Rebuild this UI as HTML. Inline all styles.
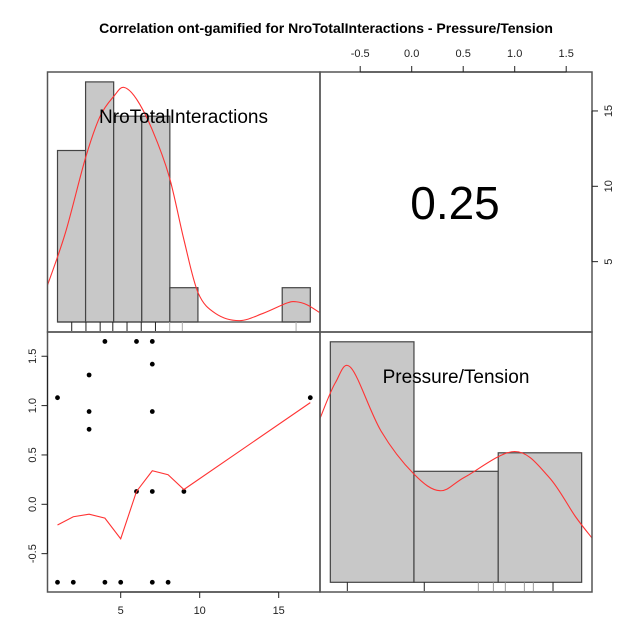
<!DOCTYPE html>
<html><head><meta charset="utf-8"><style>
html,body{margin:0;padding:0;background:#fff}
svg{display:block;font-family:"Liberation Sans",Arial,sans-serif}
</style></head><body>
<svg id="chart" width="640" height="640" viewBox="0 0 640 640" xmlns="http://www.w3.org/2000/svg">
<text x="326" y="33" font-size="14" font-weight="bold" text-anchor="middle">Correlation ont-gamified for NroTotalInteractions - Pressure/Tension</text>
</svg>
<script>
// ---- data ----
const scatterX = [4,6,7,7,3,1,17,3,7,3,6,7,9,1,2,4,5,7,8];
const scatterY = [1.65,1.65,1.65,1.42,1.31,1.08,1.08,0.94,0.94,0.76,0.13,0.13,0.13,-0.79,-0.79,-0.79,-0.79,-0.79,-0.79];
const smoothX = [1,2,3,4,5,6,7,8,9,17];
const smoothY = [-0.21,-0.126,-0.10,-0.14,-0.35,0.13,0.34,0.30,0.15,1.03];
const nroBreaks = [1,2.777,4.555,6.333,8.111,9.888,11.666,13.444,15.222,17];
const nroCounts = [5,7,6,6,1,0,0,0,1];
const nroRug = [1.9,2.8,3.7,4.5,5.4,6.3,7.2,8.1,8.9,16.1];
const nroDensX = [0.35,1.5,2.77,3.7,4.6,5.2,6.0,7.0,8.07,9.0,9.9,11,12.5,14,15.5,16.1,16.8,17.57];
const nroDensY = [1.05,2.6,4.78,6.0,6.6,6.84,6.5,5.6,4.24,2.4,0.85,0.25,0.04,0.25,0.55,0.59,0.5,0.28];
const ptBreaks = [-0.79,0.022,0.84,1.65];
const ptCounts = [13,6,7];
const ptRug = [-0.625,0.122,0.647,0.793,0.909,1.094,1.181,1.372];
const ptDensX = [-0.89,-0.74,-0.59,-0.3,0.02,0.275,0.52,1.0,1.33,1.59,1.76];
const ptDensY = [8.86,10.8,11.6,8.2,5.86,4.95,5.7,7.07,5.7,3.55,2.33];
const xTicksNro = [5,10,15];
const yTicksPT = [-0.5,0,0.5,1,1.5];
const correlation = "0.25";

// ---- scales ----
const L=47.5,M=320,R=592,T=72,MID=332,B=592;
const xNro = v => 41.7 + v*15.8;
const yNro = v => 337 - v*15.07;
const xPT = v => 411.7 + v*103;
const yPT = v => 504.3 - v*98.7;
const hNroBase=322, hNroUnit=34.3;
const hPTBase=582.3, hPTUnit=18.5;
const fmt = v => v.toFixed(1);
const svg=document.getElementById('chart');
const NS='http://www.w3.org/2000/svg';
function mk(tag,attrs,parent){const e=document.createElementNS(NS,tag);for(const k in attrs)e.setAttribute(k,attrs[k]);(parent||svg).appendChild(e);return e;}
function smoothPath(p){let d='M'+p[0][0]+','+p[0][1];
  for(let i=0;i<p.length-1;i++){const p0=p[i-1]||p[i],p1=p[i],p2=p[i+1],p3=p[i+2]||p2;
    const c1=[p1[0]+(p2[0]-p0[0])/6,p1[1]+(p2[1]-p0[1])/6],c2=[p2[0]-(p3[0]-p1[0])/6,p2[1]-(p3[1]-p1[1])/6];
    d+=' C'+c1[0]+','+c1[1]+' '+c2[0]+','+c2[1]+' '+p2[0]+','+p2[1];}
  return d;}

// top-left histogram
const g1=mk('g',{});


nroCounts.forEach((c,i)=>{ if(c===0) return;
  const x0=xNro(nroBreaks[i]),x1=xNro(nroBreaks[i+1]);
  const r=mk('rect',{x:x0,y:hNroBase-c*hNroUnit,width:x1-x0,height:c*hNroUnit,fill:'#c8c8c8',stroke:'#444','stroke-width':1.2},g1);
  
  
});
mk('line',{x1:xNro(nroBreaks[0]),x2:xNro(nroBreaks[nroBreaks.length-1]),y1:hNroBase,y2:hNroBase,stroke:'#444','stroke-width':1.2},g1);
nroRug.forEach((v,i)=>{const l=mk('line',{x1:xNro(v),x2:xNro(v),y1:hNroBase,y2:331,stroke:i<7?'#222':'#aaa','stroke-width':1},g1);
  
  });
const cp1=mk('clipPath',{id:'cp1'});mk('rect',{x:L,y:T,width:M-L,height:MID-T},cp1);
const d1=mk('path',{d:smoothPath(nroDensX.map((x,i)=>[xNro(x),hNroBase-nroDensY[i]*hNroUnit])),fill:'none',stroke:'#ff3333','stroke-width':1.1,'clip-path':'url(#cp1)'},g1);


const t1=mk('text',{x:183.5,y:123,'font-size':19,'text-anchor':'middle'});
t1.textContent='NroTotalInteractions';



// correlation text
const t2=mk('text',{x:455,y:219,'font-size':46,'text-anchor':'middle'});
t2.textContent=correlation;



// bottom-left scatter
const g3=mk('g',{});


scatterX.forEach((x,i)=>{const c=mk('circle',{cx:xNro(x),cy:yPT(scatterY[i]),r:2.4,fill:'#000'},g3);
  
  });
const sm=mk('polyline',{points:smoothX.map((x,i)=>xNro(x)+','+yPT(smoothY[i])).join(' '),fill:'none',stroke:'#ff3333','stroke-width':1.1},g3);



// bottom-right histogram
const g4=mk('g',{});


ptCounts.forEach((c,i)=>{const x0=xPT(ptBreaks[i]),x1=xPT(ptBreaks[i+1]);
  const r=mk('rect',{x:x0,y:hPTBase-c*hPTUnit,width:x1-x0,height:c*hPTUnit,fill:'#c8c8c8',stroke:'#444','stroke-width':1.2},g4);
  
  });
ptRug.forEach((v,i)=>{const l=mk('line',{x1:xPT(v),x2:xPT(v),y1:hPTBase,y2:591,stroke:(i<2||i==7)?'#222':'#999','stroke-width':1},g4);
  
  });
const cp=mk('clipPath',{id:'cp4'});mk('rect',{x:M,y:MID,width:R-M,height:B-MID},cp);
const d4=mk('path',{d:smoothPath(ptDensX.map((x,i)=>[xPT(x),hPTBase-ptDensY[i]*hPTUnit])),fill:'none',stroke:'#ff3333','stroke-width':1.1,'clip-path':'url(#cp4)'},g4);


const t4=mk('text',{x:456,y:383,'font-size':19,'text-anchor':'middle'});
t4.textContent='Pressure/Tension';



// panel borders
[[L,T,M,MID],[M,T,R,MID],[L,MID,M,B],[M,MID,R,B]].forEach(p=>{
  const r=mk('rect',{x:p[0],y:p[1],width:p[2]-p[0],height:p[3]-p[1],fill:'none',stroke:'#555','stroke-width':1.5});
  
  });

// axes
const ax=mk('g',{'font-size':11,fill:'#222'});


mk('line',{x1:xNro(xTicksNro[0]),x2:xNro(xTicksNro[xTicksNro.length-1]),y1:B,y2:B,stroke:'#222'},ax);
xTicksNro.forEach(v=>{mk('line',{x1:xNro(v),x2:xNro(v),y1:B,y2:B+6,stroke:'#222'},ax);
  const t=mk('text',{x:xNro(v),y:614,'text-anchor':'middle'},ax);t.textContent=v;
  
  });
mk('line',{x1:xPT(yTicksPT[0]),x2:xPT(yTicksPT[yTicksPT.length-1]),y1:T,y2:T,stroke:'#222'},ax);
yTicksPT.forEach(v=>{mk('line',{x1:xPT(v),x2:xPT(v),y1:T,y2:T-6,stroke:'#222'},ax);
  const t=mk('text',{x:xPT(v),y:57,'text-anchor':'middle'},ax);t.textContent=fmt(v);
  
  });
mk('line',{x1:L,x2:L,y1:yPT(yTicksPT[0]),y2:yPT(yTicksPT[yTicksPT.length-1]),stroke:'#222'},ax);
yTicksPT.forEach(v=>{mk('line',{x1:L,x2:L-6,y1:yPT(v),y2:yPT(v),stroke:'#222'},ax);
  const t=mk('text',{x:0,y:0,'text-anchor':'middle',transform:'translate(36,'+yPT(v)+') rotate(-90)'},ax);t.textContent=fmt(v);
  
  });
mk('line',{x1:R,x2:R,y1:yNro(xTicksNro[0]),y2:yNro(xTicksNro[xTicksNro.length-1]),stroke:'#222'},ax);
xTicksNro.forEach(v=>{mk('line',{x1:R,x2:R+6,y1:yNro(v),y2:yNro(v),stroke:'#222'},ax);
  const t=mk('text',{x:0,y:0,'text-anchor':'middle',transform:'translate(612,'+yNro(v)+') rotate(-90)'},ax);t.textContent=v;
  
  });
</script>
</body></html>
